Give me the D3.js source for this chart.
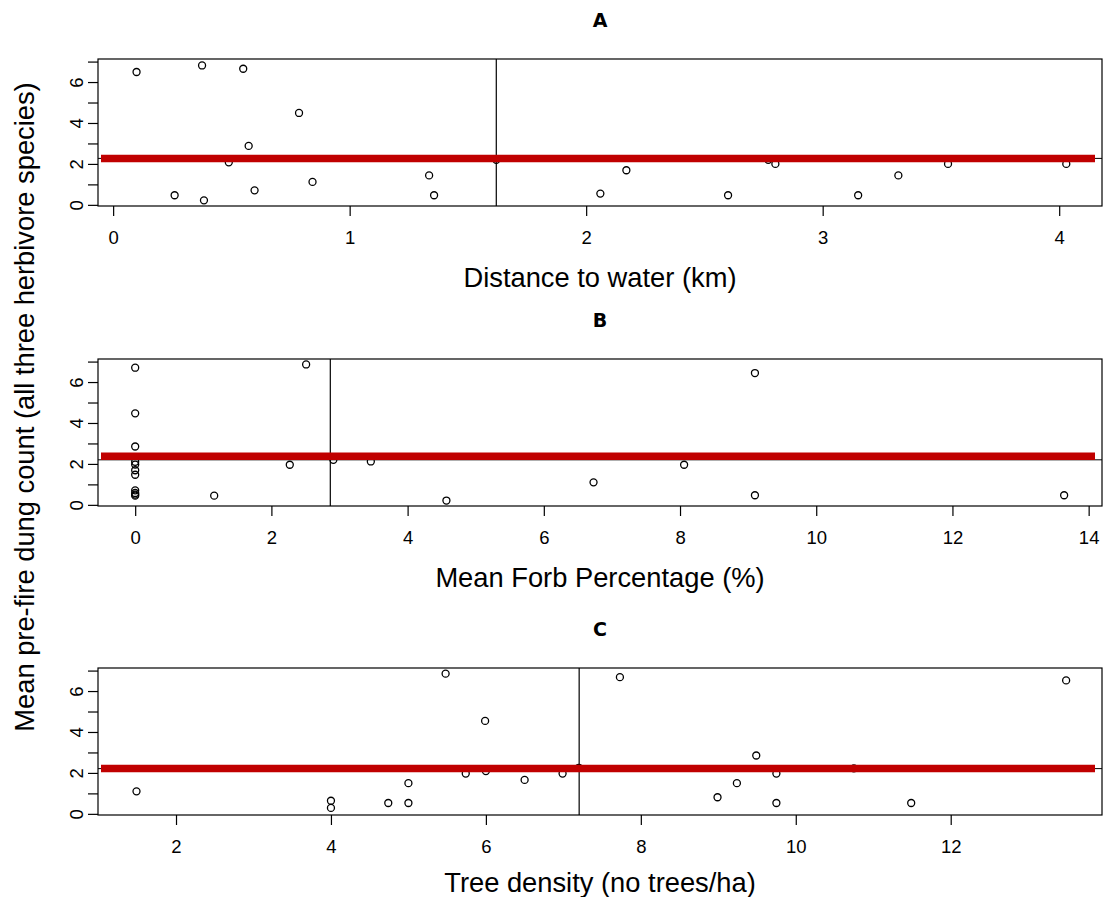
<!DOCTYPE html>
<html>
<head>
<meta charset="utf-8">
<script src="https://cdn.jsdelivr.net/npm/d3@7/dist/d3.min.js"></script>
<style>
  html, body { margin: 0; padding: 0; background: #fff; }
  svg { display: block; }
  .tick-label { font-family: "Liberation Sans", Arial, sans-serif; fill: #000; }
  .axis-title { font-family: "Liberation Sans", Arial, sans-serif; font-size: 27.3px; fill: #000; }
  .panel-title { font-family: "DejaVu Sans", Verdana, sans-serif; font-size: 19px; font-weight: bold; fill: #000; }
</style>
</head>
<body>
<svg id="chart" width="1104" height="897"></svg>
<script>
// ---- Data ----
const panelTitles = ["A", "B", "C"];
const xTitles = ["Distance to water (km)", "Mean Forb Percentage (%)", "Tree density (no trees/ha)"];
const yTitle = "Mean pre-fire dung count (all three herbivore species)";

const xA = [0.099, 0.376, 0.55, 0.786, 0.573, 0.489, 0.26, 0.384, 0.598, 0.843, 1.336, 1.357, 1.62, 2.06, 2.17, 2.60, 2.77, 2.80, 3.15, 3.32, 3.53, 4.03];
const yA = [6.49, 6.81, 6.65, 4.49, 2.88, 2.08, 0.47, 0.22, 0.71, 1.12, 1.44, 0.47, 2.2, 0.55, 1.69, 0.47, 2.2, 2.0, 0.47, 1.44, 2.0, 2.0];

const xB = [0, 0, 0, 0, 0, 0, 0, 0, 0, 0, 0, 2.51, 1.16, 2.27, 2.91, 3.46, 4.57, 9.10, 6.73, 8.06, 9.10, 13.64];
const yB = [6.70, 4.47, 2.85, 2.10, 1.97, 1.69, 1.47, 0.71, 0.58, 0.45, 0.50, 6.86, 0.45, 1.96, 2.2, 2.12, 0.21, 6.44, 1.10, 1.96, 0.47, 0.47];

const xC = [1.49, 4.0, 4.0, 4.74, 5.0, 5.0, 5.48, 5.99, 5.74, 6.0, 6.5, 6.99, 7.2, 7.73, 13.49, 9.49, 9.75, 9.24, 8.99, 9.75, 11.49, 10.75];
const yC = [1.10, 0.64, 0.29, 0.53, 0.53, 1.50, 6.85, 4.54, 1.97, 2.09, 1.66, 1.97, 2.25, 6.68, 6.52, 2.85, 1.97, 1.50, 0.81, 0.53, 0.53, 2.22];

const splitValues = [1.62, 2.865, 7.204];   // vertical split lines
const meanValues = [2.27, 2.38, 2.21];      // thick red lines
const refValues = [2.27, 2.20, 2.21];       // thin black lines

const xTicksA = [0, 1, 2, 3, 4];
const xTicksB = [0, 2, 4, 6, 8, 10, 12, 14];
const xTicksC = [2, 4, 6, 8, 10, 12];
const yTicks = [0, 1, 2, 3, 4, 5, 6, 7];
const yTickLabels = [0, 2, 4, 6];

const xDomains = [[-0.064, 4.181], [-0.546, 14.196], [0.993, 13.953]];
const yDomain = [-0.056, 7.126];

// ---- Layout ----
const left = 98, right = 1102;
const tops = [59, 359, 668];
const boxH = 147;
const xTitleOffsets = [81, 81, 77];

const svg = d3.select("#chart");

const panels = [
  { xs: xA, ys: yA, ticks: xTicksA },
  { xs: xB, ys: yB, ticks: xTicksB },
  { xs: xC, ys: yC, ticks: xTicksC }
];

panels.forEach((p, i) => {
  const top = tops[i], bottom = top + boxH;
  const x = d3.scaleLinear().domain(xDomains[i]).range([left, right]);
  const y = d3.scaleLinear().domain(yDomain).range([bottom, top]);
  const g = svg.append("g");

  // points
  g.selectAll("circle.pt").data(d3.range(p.xs.length)).enter()
    .append("circle")
    .attr("cx", k => x(p.xs[k]))
    .attr("cy", k => y(p.ys[k]))
    .attr("r", 3.5)
    .attr("fill", "none")
    .attr("stroke", "#000")
    .attr("stroke-width", 1.3);

  // thin black reference line
  g.append("line")
    .attr("x1", left).attr("x2", right)
    .attr("y1", y(refValues[i])).attr("y2", y(refValues[i]))
    .attr("stroke", "#000").attr("stroke-width", 1);

  // vertical split line
  g.append("line")
    .attr("x1", x(splitValues[i])).attr("x2", x(splitValues[i]))
    .attr("y1", top).attr("y2", bottom)
    .attr("stroke", "#000").attr("stroke-width", 1.2);

  // thick red line
  g.append("line")
    .attr("x1", left + 3).attr("x2", right - 7)
    .attr("y1", y(meanValues[i])).attr("y2", y(meanValues[i]))
    .attr("stroke", "#c00000").attr("stroke-width", 7.5);

  // box
  g.append("rect")
    .attr("x", left).attr("y", top)
    .attr("width", right - left).attr("height", boxH)
    .attr("fill", "none").attr("stroke", "#000").attr("stroke-width", 1.2);

  // x axis
  const xAxis = d3.axisBottom(x).tickValues(p.ticks).tickSize(10).tickFormat(d3.format("d"));
  const xg = g.append("g").attr("transform", `translate(0,${bottom})`).call(xAxis);
  xg.select(".domain").remove();
  xg.selectAll(".tick line").attr("stroke", "#000").attr("stroke-width", 1.2);
  xg.selectAll(".tick text").attr("class", "tick-label").attr("y", 38).attr("dy", null)
    .style("font-size", "18.5px").style("font-family", "'Liberation Sans', Arial, sans-serif");

  // y axis
  const yAxis = d3.axisLeft(y).tickValues(yTicks).tickSize(10)
    .tickFormat(d => yTickLabels.includes(d) ? d3.format("d")(d) : "");
  const yg = g.append("g").attr("transform", `translate(${left},0)`).call(yAxis);
  yg.select(".domain").remove();
  yg.selectAll(".tick line").attr("stroke", "#000").attr("stroke-width", 1.2);
  yg.selectAll(".tick text")
    .attr("class", "tick-label")
    .attr("x", null).attr("dy", null)
    .attr("text-anchor", "middle")
    .attr("transform", "translate(-21,0) rotate(-90) translate(0,6)")
    .style("font-size", "18.5px").style("font-family", "'Liberation Sans', Arial, sans-serif");

  // x title
  g.append("text")
    .attr("class", "axis-title")
    .attr("x", (left + right) / 2)
    .attr("y", bottom + xTitleOffsets[i])
    .attr("text-anchor", "middle")
    .text(xTitles[i]);

  // panel title
  g.append("text")
    .attr("class", "panel-title")
    .attr("x", (left + right) / 2)
    .attr("y", top - 32)
    .attr("text-anchor", "middle")
    .text(panelTitles[i]);
});

// y title
svg.append("text")
  .attr("class", "axis-title")
  .attr("transform", "translate(34,407) rotate(-90)")
  .attr("text-anchor", "middle")
  .text(yTitle);
</script>
</body>
</html>
